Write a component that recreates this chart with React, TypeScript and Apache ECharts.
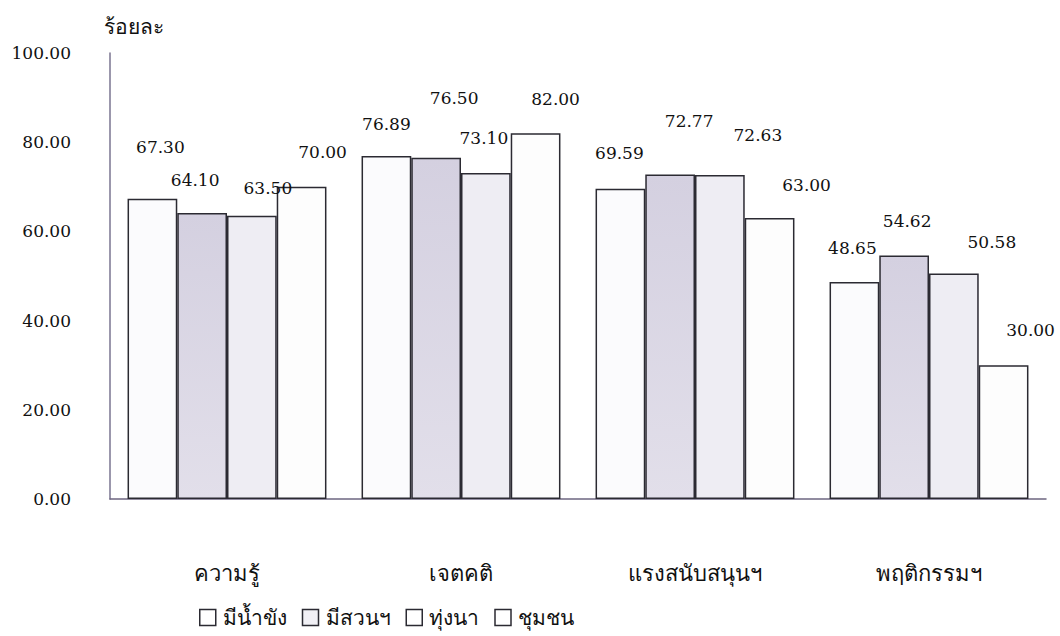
import React, { useEffect, useRef } from "react";
import * as echarts from "echarts";

// Categories and series
const categories = ["ความรู้", "เจตคติ", "แรงสนับสนุนฯ", "พฤติกรรมฯ"];
const seriesNames = ["มีน้ำขัง", "มีสวนฯ", "ทุ่งนา", "ชุมชน"];

const floodedValues = [67.3, 76.89, 69.59, 48.65];
const gardenValues = [64.1, 76.5, 72.77, 54.62];
const paddyValues = [63.5, 73.1, 72.63, 50.58];
const communityValues = [70.0, 82.0, 63.0, 30.0];

const yTicks = { min: 0, max: 100, interval: 20 };

// Nudges for value labels, so they sit where the original layout puts them
const labelNudges: number[][][] = [
  [[8, -38], [0, -19], [-1, -22], [-2, -21]],
  [[-7, -20], [18, -46], [19, -40], [3, -21]],
  [[16, -14], [-2, -21], [38, -27], [38, -18]],
  [[21, -21], [20, -21], [37, -20], [27, -22]],
];

const FONT = "'DejaVu Serif', 'Liberation Serif', serif";
const BORDER = "#2b2a32";

const fills: any[] = [
  "#fbfbfd",
  new echarts.graphic.LinearGradient(0, 0, 0, 1, [
    { offset: 0, color: "#d4d0e0" },
    { offset: 1, color: "#e2dfea" },
  ]),
  "#eeedf3",
  "#fdfdfd",
];

export default function App() {
  const ref = useRef<HTMLDivElement>(null);

  useEffect(() => {
    if (!ref.current) return;
    const chart = echarts.init(ref.current, undefined, { renderer: "svg" });
    const allValues = [floodedValues, gardenValues, paddyValues, communityValues];

    chart.setOption({
      animation: false,
      backgroundColor: "#ffffff",
      textStyle: { fontFamily: FONT },
      grid: { left: 110, right: 14, top: 53, bottom: 137 },
      legend: {
        data: seriesNames.map((name, i) => ({
          name,
          itemStyle: { color: i === 1 ? "#f1f0f5" : "#ffffff", borderColor: BORDER, borderWidth: 1.5 },
        })),
        bottom: 3,
        left: 194,
        itemWidth: 16,
        itemHeight: 16,
        itemGap: 15,
        icon: "rect",
        textStyle: { fontFamily: FONT, fontSize: 21, color: "#111", padding: [0, 0, 0, 2] },
      },
      xAxis: {
        type: "category",
        data: categories,
        axisLine: { show: true, lineStyle: { color: "#6d6680", width: 1.5 } },
        axisTick: { show: false },
        axisLabel: { color: "#111", fontSize: 22, fontFamily: FONT, margin: 63 },
      },
      yAxis: {
        type: "value",
        min: yTicks.min,
        max: yTicks.max,
        interval: yTicks.interval,
        name: "ร้อยละ",
        nameLocation: "end",
        nameGap: 16,
        nameTextStyle: { color: "#111", fontSize: 21, fontFamily: FONT, align: "left", padding: [0, 0, 0, -6] },
        axisLine: { show: true, lineStyle: { color: "#7a7490", width: 1.5 } },
        axisTick: { show: false },
        splitLine: { show: false },
        axisLabel: {
          color: "#111",
          fontSize: 17,
          fontFamily: FONT,
          margin: 39,
          formatter: (v: number) => v.toFixed(2),
        },
      },
      series: seriesNames.map((name, si) => ({
        name,
        type: "bar",
        barGap: "0%",
        barCategoryGap: "15%",
        itemStyle: { color: fills[si], borderColor: BORDER, borderWidth: 1.5 },
        data: allValues[si].map((v, ci) => ({
          value: v,
          label: { offset: labelNudges[si][ci] },
        })),
        label: {
          show: true,
          position: "top",
          distance: 5,
          color: "#111",
          fontSize: 17,
          fontFamily: FONT,
          formatter: (p: any) => Number(p.value).toFixed(2),
        },
      })),
    });

    return () => chart.dispose();
  }, []);

  return (
    <div
      ref={ref}
      style={{ position: "absolute", left: 0, top: 0, width: 1060, height: 636 }}
    />
  );
}
